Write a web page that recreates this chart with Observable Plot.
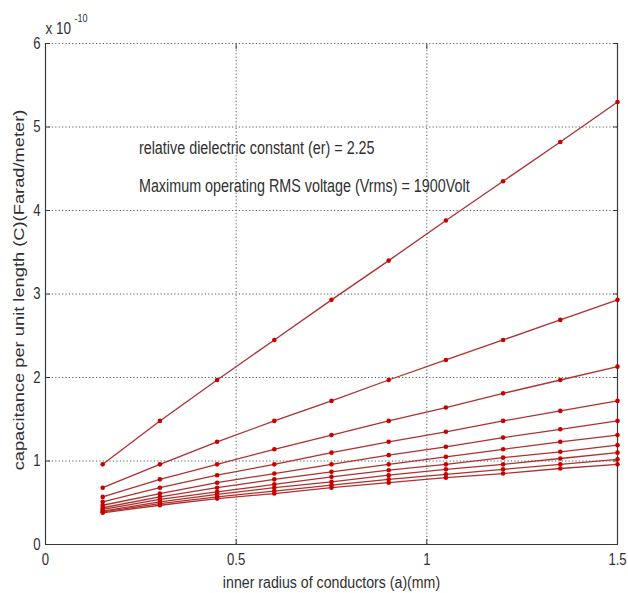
<!DOCTYPE html>
<html>
<head>
<meta charset="utf-8">
<script src="https://cdn.jsdelivr.net/npm/d3@7"></script>
<script src="https://cdn.jsdelivr.net/npm/@observablehq/plot@0.6"></script>
<style>
  html, body { margin: 0; padding: 0; background: #fff; }
  #chart svg { display: block; }
</style>
</head>
<body>
<div id="chart"></div>
<script>
// inner radius of conductor a (mm)
const radius = [0.15, 0.3, 0.45, 0.6, 0.75, 0.9, 1.05, 1.2, 1.35, 1.5];
// capacitance per unit length, units of 1e-10 F/m, one array per curve (top to bottom)
const c1  = [0.96, 1.48, 1.97, 2.45, 2.93, 3.40, 3.88, 4.35, 4.82, 5.30];
const c2  = [0.68, 0.96, 1.23, 1.48, 1.72, 1.97, 2.21, 2.45, 2.69, 2.93];
const c3  = [0.57, 0.78, 0.96, 1.14, 1.31, 1.48, 1.64, 1.81, 1.97, 2.13];
const c4  = [0.51, 0.68, 0.83, 0.96, 1.10, 1.23, 1.35, 1.48, 1.60, 1.72];
const c5  = [0.47, 0.61, 0.74, 0.85, 0.96, 1.07, 1.17, 1.28, 1.38, 1.48];
const c6  = [0.44, 0.57, 0.68, 0.78, 0.87, 0.96, 1.05, 1.14, 1.23, 1.31];
const c7  = [0.42, 0.54, 0.63, 0.72, 0.81, 0.89, 0.96, 1.04, 1.11, 1.19];
const c8  = [0.40, 0.51, 0.60, 0.68, 0.75, 0.83, 0.90, 0.96, 1.03, 1.10];
const c9  = [0.39, 0.49, 0.57, 0.64, 0.71, 0.78, 0.84, 0.90, 0.96, 1.02];
const c10 = [0.38, 0.47, 0.55, 0.61, 0.68, 0.74, 0.80, 0.85, 0.91, 0.96];
const curves = [c1, c2, c3, c4, c5, c6, c7, c8, c9, c10];

const xTicks = [0, 0.5, 1, 1.5];
const yTicks = [0, 1, 2, 3, 4, 5, 6];
const xGrid = [0.5, 1];
const yGrid = [1, 2, 3, 4, 5, 6];

const xLabel = "inner radius of conductors (a)(mm)";
const yLabel = "capacitance per unit length (C)(Farad/meter)";
const exponentBase = "x 10";
const exponentPower = "-10";
const notes = [
  {x: 0.245, y: 4.74, text: "relative dielectric constant (er) = 2.25"},
  {x: 0.245, y: 4.29, text: "Maximum operating RMS voltage (Vrms) = 1900Volt"}
];

const rows = curves.flatMap((c, k) => c.map((v, j) => ({curve: k, a: radius[j], c: v})));

const lineColor = "#b03030";
const dotColor = "#c80000";
const axisColor = "#3a3a3a";
const textColor = "#303030";
const gridStyle = {stroke: "#5a5a5a", strokeOpacity: 1, strokeDasharray: "1.2,2.2", strokeWidth: 1};

const plot = Plot.plot({
  width: 628,
  height: 593,
  marginLeft: 45,
  marginRight: 11,
  marginTop: 43,
  marginBottom: 49,
  style: {fontFamily: "'Liberation Sans', Arial, sans-serif", fontSize: "16px", color: textColor, background: "#fff"},
  x: {domain: [0, 1.5]},
  y: {domain: [0, 6]},
  marks: [
    Plot.ruleX(xGrid, gridStyle),
    Plot.ruleY(yGrid, gridStyle),
    Plot.ruleX([0, 1.5], {stroke: axisColor, strokeWidth: 1.2}),
    Plot.ruleY([0], {stroke: axisColor, strokeWidth: 1.2}),
    Plot.line(rows, {x: "a", y: "c", z: "curve", stroke: lineColor, strokeWidth: 1.3}),
    Plot.dot(rows, {x: "a", y: "c", r: 2.3, fill: dotColor, stroke: "none"}),
    // inward ticks
    Plot.axisX({ticks: xTicks, tickSize: -5, text: null, stroke: axisColor, label: null, anchor: "bottom"}),
    Plot.axisX({ticks: xTicks, tickSize: -5, text: null, stroke: axisColor, label: null, anchor: "top"}),
    Plot.axisY({ticks: yTicks, tickSize: -5, text: null, stroke: axisColor, label: null, anchor: "left"}),
    Plot.axisY({ticks: yTicks, tickSize: -5, text: null, stroke: axisColor, label: null, anchor: "right"}),
    // tick labels
    Plot.axisX({ticks: xTicks, tickSize: 0, tickPadding: 9, label: null, anchor: "bottom", fontSize: 16, fill: textColor, tickFormat: d => String(d)}),
    Plot.axisY({ticks: yTicks, tickSize: 0, tickPadding: 5, label: null, anchor: "left", fontSize: 16, fill: textColor, tickFormat: d => String(d)}),
    // axis titles
    Plot.text([xLabel], {frameAnchor: "bottom", text: d => d, dy: 38, fontSize: 17.3, fill: textColor, textAnchor: "middle", lineAnchor: "middle"}),
    Plot.text([yLabel], {frameAnchor: "left", text: d => d, rotate: -90, dx: -26, dy: -4, fontSize: 18.3, fill: textColor, textAnchor: "middle", lineAnchor: "middle"}),
    // exponent
    Plot.text([exponentBase], {frameAnchor: "top-left", text: d => d, dx: 0, dy: -15, textAnchor: "start", fontSize: 16.5, fill: textColor, lineAnchor: "middle"}),
    Plot.text([exponentPower], {frameAnchor: "top-left", text: d => d, dx: 29, dy: -25, textAnchor: "start", fontSize: 11, fill: textColor, lineAnchor: "middle"}),
    // annotations
    Plot.text(notes, {x: "x", y: "y", text: "text", textAnchor: "start", lineAnchor: "middle", fontSize: 17.5, fill: textColor})
  ]
});

// The reference figure is horizontally compressed: condense the glyphs around their anchors.
d3.select(plot).selectAll("text").each(function () {
  const t = this.getAttribute("transform") || "";
  const rotated = /rotate\(/.test(t);
  this.setAttribute("transform", t + (rotated ? " scale(1,0.82)" : " scale(0.82,1)"));
});

document.getElementById("chart").append(plot);
</script>
</body>
</html>
